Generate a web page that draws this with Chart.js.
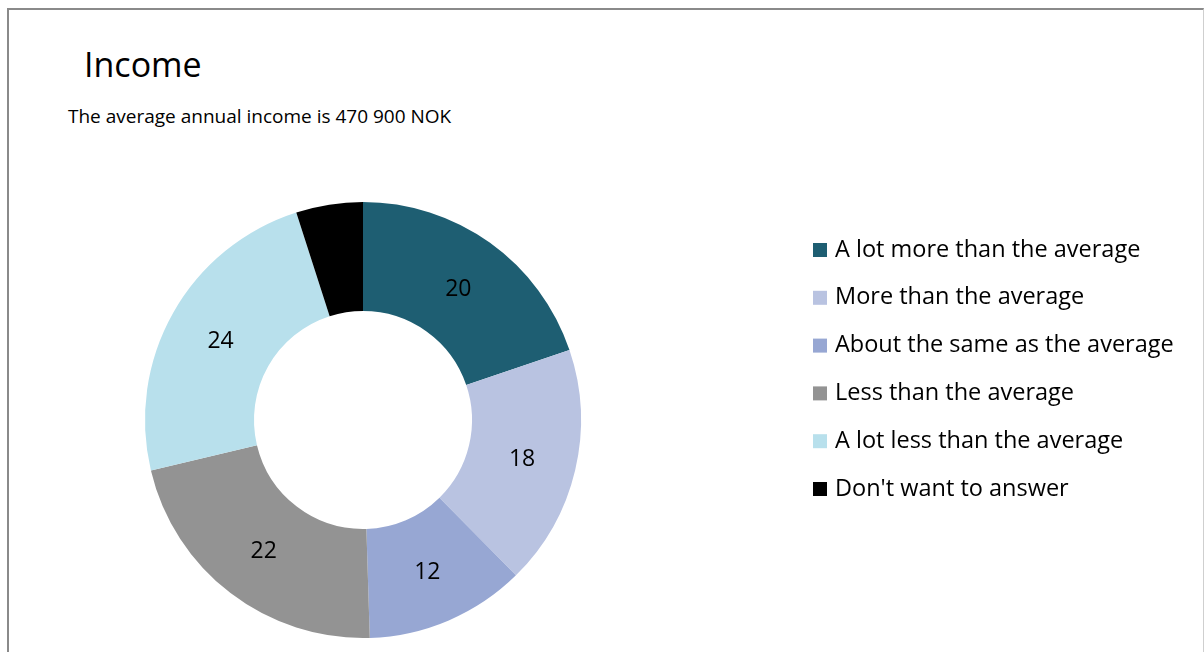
<!DOCTYPE html>
<html>
<head>
<meta charset="utf-8">
<title>Income</title>
<script src="https://cdn.jsdelivr.net/npm/chart.js@4/dist/chart.umd.min.js"></script>
<style>
  html, body { margin: 0; padding: 0; background: #fff; }
  body { width: 1204px; height: 652px; position: relative; overflow: hidden; font-family: "Open Sans", sans-serif; }
  #frame {
    position: absolute; left: 7px; top: 8px; width: 1194px; height: 700px;
    border-left: 2px solid #8a8a8a; border-top: 2px solid #8a8a8a; border-right: 1px solid #cfcfcf;
  }
  #tittel { position: absolute; left: 84px; top: 47px; font-size: 34px; color: #000; line-height: 1; }
  #undertittel { position: absolute; left: 68px; top: 107px; font-size: 19px; color: #000; line-height: 1; }
  #wrap { position: absolute; left: 0; top: 0; width: 1204px; height: 652px; }
</style>
</head>
<body>
<div id="frame"></div>
<div id="tittel">Income</div>
<div id="undertittel">The average annual income is 470 900 NOK</div>
<div id="wrap"><canvas id="chartInntekt" width="1204" height="652"></canvas></div>

<script>
// Svarkategorier og andeler (prosent)
const kategorier = [
  "A lot more than the average",
  "More than the average",
  "About the same as the average",
  "Less than the average",
  "A lot less than the average",
  "Don't want to answer"
];
const andeler = [20, 18, 12, 22, 24, 5];
const visTall = [true, true, true, true, true, false];
const farger = ["#1e5e72", "#b9c3e1", "#97a7d3", "#939393", "#b8e0ec", "#000000"];

// Tall midt i hver ring-bit
const tallPlugin = {
  id: 'tallPlugin',
  afterDatasetsDraw(chart) {
    const ctx = chart.ctx;
    const meta = chart.getDatasetMeta(0);
    ctx.save();
    ctx.font = '23px "Open Sans", sans-serif';
    ctx.fillStyle = '#000';
    ctx.textAlign = 'center';
    ctx.textBaseline = 'middle';
    meta.data.forEach((arc, i) => {
      if (!visTall[i]) return;
      const p = arc.tooltipPosition();
      ctx.fillText(String(chart.data.datasets[0].data[i]), p.x, p.y + 2);
    });
    ctx.restore();
  }
};

// Egen forklaring til høyre
const forklaringPlugin = {
  id: 'forklaringPlugin',
  afterDraw(chart) {
    const ctx = chart.ctx;
    const x0 = 813, y0 = 250, steg = 47.8, boks = 14;
    ctx.save();
    ctx.font = '23.5px "Open Sans", sans-serif';
    ctx.textBaseline = 'middle';
    ctx.textAlign = 'left';
    chart.data.labels.forEach((lab, i) => {
      const y = y0 + i * steg;
      ctx.fillStyle = chart.data.datasets[0].backgroundColor[i];
      ctx.fillRect(x0, y - boks / 2, boks, boks);
      ctx.fillStyle = '#000';
      ctx.fillText(lab, x0 + 22, y);
    });
    ctx.restore();
  }
};

const canvas = document.getElementById('chartInntekt');
new Chart(canvas, {
  type: 'doughnut',
  data: {
    labels: kategorier,
    datasets: [{
      data: andeler,
      backgroundColor: farger,
      borderWidth: 0
    }]
  },
  options: {
    responsive: false,
    animation: false,
    cutout: '50%',
    layout: { padding: { left: 145, right: 623, top: 202, bottom: 14 } },
    plugins: {
      legend: { display: false },
      tooltip: { enabled: false }
    }
  },
  plugins: [tallPlugin, forklaringPlugin]
});
</script>
</body>
</html>
